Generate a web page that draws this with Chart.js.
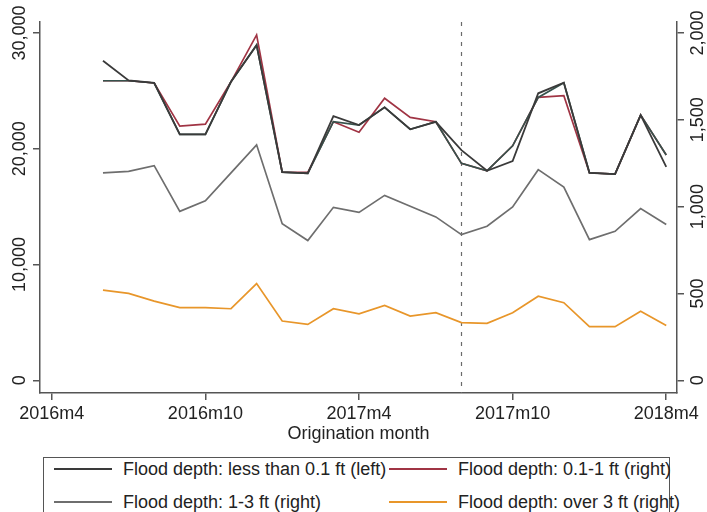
<!DOCTYPE html>
<html><head><meta charset="utf-8">
<script src="https://cdn.jsdelivr.net/npm/chart.js@4.4.1/dist/chart.umd.min.js"></script>
<style>
html,body{margin:0;padding:0;background:#fff;}
#wrap{position:relative;width:707px;height:512px;overflow:hidden;background:#fff;font-family:"Liberation Sans",Arial,Helvetica,sans-serif;}
#c{position:absolute;left:0;top:0;}
#legend{position:absolute;left:43px;top:457px;width:627px;height:80px;border:1px solid #555;box-sizing:border-box;}
.item{position:absolute;height:20px;font-size:18px;line-height:20px;color:#222;white-space:nowrap;}
.swatch{position:absolute;height:0;border-top:2px solid;}
</style></head><body>
<div id="wrap"><canvas id="c" width="707" height="450"></canvas><div id="legend"></div></div>
<script>
const months = ['2016m6','2016m7','2016m8','2016m9','2016m10','2016m11','2016m12','2017m1','2017m2','2017m3','2017m4','2017m5','2017m6','2017m7','2017m8','2017m9','2017m10','2017m11','2017m12','2018m1','2018m2','2018m3','2018m4'];
const depthLt01 = [27600,25900,25700,21250,21250,25800,28950,17980,17870,22820,22050,23580,21680,22330,19880,18100,18930,24790,25700,17920,17810,22910,18440];
const depth01to1 = [1725,1725,1712,1464,1475,1719,1989,1199,1197,1489,1428,1624,1514,1489,1249,1206,1350,1629,1639,1195,1187,1527,1297];
const depthOther = [1725,1725,1712,1416,1416,1719,1931,1199,1191,1489,1470,1572,1445,1489,1249,1206,1350,1629,1713,1195,1187,1527,1297];
const depth1to3 = [1194,1203,1236,973,1034,1194,1356,902,805,996,967,1065,1002,941,839,887,998,1213,1113,810,858,989,897];
const depthOver3 = [519,500,456,418,418,412,557,341,322,412,383,431,370,389,332,328,389,484,447,309,309,398,316];
const seriesNames = ['Flood depth: less than 0.1 ft (left)','Flood depth: 0.1-1 ft (right)','Flood depth: 1-3 ft (right)','Flood depth: over 3 ft (right)'];
const xTickLabels = ['2016m4','2016m10','2017m4','2017m10','2018m4'];
const leftTicks = [0,10000,20000,30000];
const rightTicks = [0,500,1000,1500,2000];
const eventMonth = '2017m8';
const xTitle = 'Origination month';

const colors = {lt01:'#3a3a3a', d01:'#a03444', other:'#36524c', d13:'#6e6e6e', o3:'#e8962a'};

function monthIndex(label){ const p = label.split('m').map(Number); return (p[0]-2016)*12 + (p[1]-4); }
function pts(arr){ return months.map((m,i)=>({x:monthIndex(m), y:arr[i]})); }

// legend (HTML)
const legendItems = [
  {name:seriesNames[0], color:colors.lt01, col:0, row:0},
  {name:seriesNames[1], color:colors.d01, col:1, row:0},
  {name:seriesNames[2], color:colors.d13, col:0, row:1},
  {name:seriesNames[3], color:colors.o3, col:1, row:1}
];
const lg = document.getElementById('legend');
const colX = [{sw:10, tx:79}, {sw:345, tx:414}];
const rowY = [11, 44];
legendItems.forEach(it=>{
  const s = document.createElement('div'); s.className='swatch';
  s.style.left = colX[it.col].sw+'px'; s.style.width='58px'; s.style.top=(rowY[it.row]-1)+'px'; s.style.borderTopColor=it.color;
  lg.appendChild(s);
  const t = document.createElement('div'); t.className='item';
  t.style.left = colX[it.col].tx+'px'; t.style.top=(rowY[it.row]-10)+'px'; t.textContent = it.name;
  lg.appendChild(t);
});

Chart.defaults.font.family = '"Liberation Sans", Arial, Helvetica, sans-serif';
Chart.defaults.color = '#222';

const yLabelPlugin = {
  id:'yLabels',
  afterDraw(chart){
    const ctx = chart.ctx;
    ctx.save();
    ctx.font = '18px "Liberation Sans", Arial, sans-serif';
    ctx.fillStyle = '#222';
    ctx.textAlign = 'center';
    ctx.textBaseline = 'alphabetic';
    const draw = (scale, vals, xb) => {
      vals.forEach(v=>{
        const y = scale.getPixelForValue(v);
        ctx.save(); ctx.translate(xb, y); ctx.rotate(-Math.PI/2);
        ctx.fillText(v.toLocaleString('en-US'), 0, 0); ctx.restore();
      });
    };
    draw(chart.scales.yL, leftTicks, 25);
    draw(chart.scales.yR, rightTicks, 703);
    ctx.restore();
  }
};
const eventPlugin = {
  id:'eventLine',
  beforeDatasetsDraw(chart){
    const {ctx, chartArea} = chart;
    const x = Math.round(chart.scales.x.getPixelForValue(monthIndex(eventMonth))) + 0.5;
    ctx.save();
    ctx.strokeStyle = '#6a6a6a'; ctx.lineWidth = 1.2; ctx.setLineDash([4,6]);
    ctx.beginPath(); ctx.moveTo(x, chartArea.top); ctx.lineTo(x, chartArea.bottom); ctx.stroke();
    ctx.restore();
  }
};

const ds = (label, arr, color, axis, order, w) => ({label, data:pts(arr), borderColor:color, backgroundColor:color, yAxisID:axis, order, borderWidth:w||1.7, pointRadius:0, tension:0, fill:false});

new Chart(document.getElementById('c'), {
  type:'line',
  data:{datasets:[
    ds(seriesNames[0], depthLt01, colors.lt01, 'yL', 0, 1.8),
    ds('other', depthOther, colors.other, 'yR', 1),
    ds(seriesNames[1], depth01to1, colors.d01, 'yR', 2),
    ds(seriesNames[2], depth1to3, colors.d13, 'yR', 3),
    ds(seriesNames[3], depthOver3, colors.o3, 'yR', 4)
  ]},
  options:{
    responsive:false, animation:false, devicePixelRatio:1,
    layout:{padding:{top:22,left:0,right:0,bottom:0}},
    plugins:{legend:{display:false}, tooltip:{enabled:false}},
    scales:{
      x:{type:'linear', min:-0.46, max:24.42,
        afterBuildTicks(s){ s.ticks = xTickLabels.map(l=>({value:monthIndex(l)})); },
        afterFit(s){ s.height = 57; },
        ticks:{autoSkip:false, maxRotation:0, minRotation:0, padding:3, font:{size:18}, color:'#222',
          callback(v){ const i = xTickLabels.findIndex(l=>monthIndex(l)===v); return i>=0 ? xTickLabels[i] : ''; }},
        grid:{drawOnChartArea:false, drawTicks:true, tickLength:7, color:'#555', lineWidth:1.5},
        border:{display:true, color:'#555', width:1.5},
        title:{display:true, text:xTitle, font:{size:18}, color:'#222', padding:{top:0,bottom:5}}
      },
      yL:{type:'linear', position:'left', min:-1100, max:30950,
        afterBuildTicks(s){ s.ticks = leftTicks.map(v=>({value:v})); },
        afterFit(s){ s.width = 40; },
        ticks:{display:false},
        grid:{drawOnChartArea:false, drawTicks:true, tickLength:7, color:'#555', lineWidth:1.5},
        border:{display:true, color:'#555', width:1.5}
      },
      yR:{type:'linear', position:'right', min:-1100/15, max:30950/15,
        afterBuildTicks(s){ s.ticks = rightTicks.map(v=>({value:v})); },
        afterFit(s){ s.width = 30; },
        ticks:{display:false},
        grid:{drawOnChartArea:false, drawTicks:true, tickLength:7, color:'#555', lineWidth:1.5},
        border:{display:true, color:'#555', width:1.5}
      }
    }
  },
  plugins:[yLabelPlugin, eventPlugin]
});
</script>
</body></html>
